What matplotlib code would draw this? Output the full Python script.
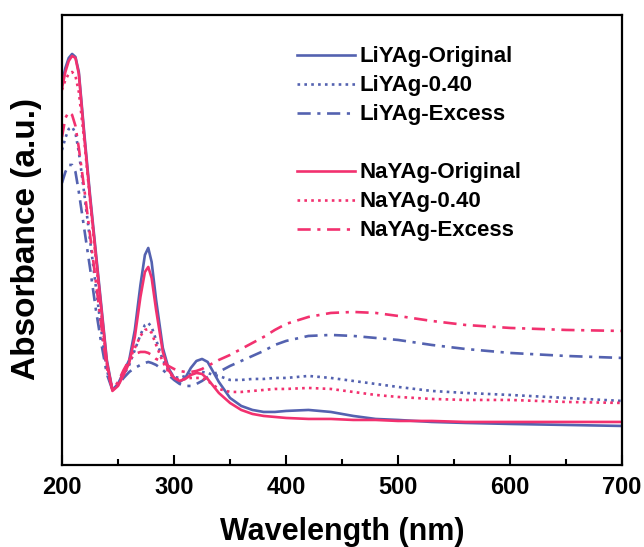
import matplotlib
matplotlib.use("Agg")
import matplotlib.pyplot as plt
from matplotlib.lines import Line2D
from matplotlib.ticker import MultipleLocator

plt.rcParams["font.family"] = ["Liberation Sans", "DejaVu Sans"]
plt.rcParams["font.weight"] = "bold"

# ── data (absorbance, arbitrary units) ────────────────────────────────────────
wavelength = [200, 203, 206, 209, 212, 215, 220, 225, 230, 235, 240, 245,
              250, 255, 260, 265, 270, 274, 277, 280, 284, 290, 295, 300,
              305, 310, 315, 320, 325, 330, 335, 340, 350, 360, 370, 380,
              390, 400, 420, 440, 460, 480, 500, 530, 560, 600, 650, 700]

li_original = [3.82, 3.97, 4.07, 4.11, 4.08, 3.93, 3.30, 2.70, 2.15, 1.60, 1.05, 0.75,
               0.81, 0.93, 1.05, 1.35, 1.80, 2.10, 2.17, 2.03, 1.65, 1.17, 0.97, 0.87,
               0.83, 0.87, 0.97, 1.04, 1.06, 1.03, 0.93, 0.83, 0.67, 0.59, 0.55, 0.53,
               0.53, 0.54, 0.55, 0.53, 0.49, 0.46, 0.45, 0.43, 0.42, 0.41, 0.40, 0.39]
li_040 = [3.15, 3.27, 3.36, 3.38, 3.32, 3.13, 2.70, 2.25, 1.80, 1.35, 0.95, 0.75,
          0.80, 0.90, 1.00, 1.15, 1.30, 1.40, 1.42, 1.38, 1.25, 1.05, 0.95, 0.88,
          0.87, 0.89, 0.91, 0.93, 0.93, 0.92, 0.90, 0.89, 0.85, 0.85, 0.86, 0.86,
          0.87, 0.87, 0.89, 0.87, 0.84, 0.81, 0.78, 0.74, 0.72, 0.70, 0.67, 0.64]
li_excess = [2.82, 2.93, 3.00, 3.00, 2.93, 2.73, 2.35, 1.97, 1.57, 1.22, 0.91, 0.75,
             0.80, 0.87, 0.93, 0.97, 1.00, 1.02, 1.03, 1.02, 1.00, 0.95, 0.90, 0.85,
             0.81, 0.79, 0.79, 0.81, 0.84, 0.88, 0.91, 0.93, 0.99, 1.04, 1.09, 1.14,
             1.20, 1.24, 1.29, 1.30, 1.29, 1.27, 1.25, 1.20, 1.16, 1.12, 1.09, 1.07]

na_original = [3.77, 3.93, 4.04, 4.09, 4.07, 3.91, 3.27, 2.67, 2.12, 1.57, 1.03, 0.74,
               0.79, 0.90, 1.02, 1.28, 1.68, 1.93, 1.98, 1.87, 1.55, 1.13, 0.95, 0.87,
               0.84, 0.86, 0.90, 0.92, 0.91, 0.86, 0.79, 0.72, 0.62, 0.55, 0.51, 0.49,
               0.48, 0.47, 0.46, 0.46, 0.45, 0.45, 0.44, 0.44, 0.43, 0.43, 0.43, 0.43]
na_040 = [3.75, 3.85, 3.91, 3.93, 3.89, 3.73, 3.23, 2.65, 2.08, 1.52, 1.01, 0.75,
          0.80, 0.93, 1.05, 1.17, 1.29, 1.35, 1.36, 1.32, 1.20, 1.03, 0.93, 0.87,
          0.85, 0.86, 0.87, 0.87, 0.87, 0.84, 0.80, 0.76, 0.73, 0.73, 0.74, 0.75,
          0.76, 0.76, 0.77, 0.76, 0.73, 0.70, 0.68, 0.66, 0.65, 0.65, 0.63, 0.62]
na_excess = [3.28, 3.47, 3.53, 3.50, 3.39, 3.17, 2.75, 2.30, 1.85, 1.40, 0.97, 0.75,
             0.83, 0.95, 1.05, 1.11, 1.13, 1.13, 1.12, 1.10, 1.06, 1.03, 0.99, 0.96,
             0.94, 0.93, 0.93, 0.94, 0.96, 0.99, 1.02, 1.05, 1.10, 1.16, 1.22, 1.28,
             1.35, 1.41, 1.48, 1.52, 1.53, 1.52, 1.49, 1.44, 1.40, 1.37, 1.35, 1.34]

BLUE = "#5462B0"
PINK = "#F2316F"
DOT = (0, (1, 1.6))
DASHDOT = (0, (5, 2.5, 1.2, 2.5))

fig = plt.figure(figsize=(6.44, 5.47), dpi=100)
ax = fig.add_axes([0.0963, 0.150, 0.8697, 0.8227])

series = [
    (li_original, BLUE, "-", "LiYAg-Original"),
    (li_040, BLUE, DOT, "LiYAg-0.40"),
    (li_excess, BLUE, DASHDOT, "LiYAg-Excess"),
    (na_original, PINK, "-", "NaYAg-Original"),
    (na_040, PINK, DOT, "NaYAg-0.40"),
    (na_excess, PINK, DASHDOT, "NaYAg-Excess"),
]
handles = []
for vals, color, ls, label in series:
    (ln,) = ax.plot(wavelength, vals, color=color, ls=ls, lw=1.9, label=label)
    handles.append(ln)

# blank row between the Li and Na groups
blank = Line2D([], [], color="none", label=" ")
handles = handles[:3] + [blank] + handles[3:]
ax.legend(handles=handles, loc="upper left", bbox_to_anchor=(0.42, 0.930),
          frameon=False, handlelength=2.6, handletextpad=0.18,
          labelspacing=0.36, borderaxespad=0, borderpad=0,
          prop={"weight": "bold", "size": 16})

ax.set_xlim(200, 700)
ax.set_ylim(0, 4.5)
ax.xaxis.set_major_locator(MultipleLocator(100))
ax.xaxis.set_minor_locator(MultipleLocator(50))
ax.tick_params(axis="x", which="major", direction="in", length=7, width=1.5,
               labelsize=17, pad=8, top=False)
ax.tick_params(axis="x", which="minor", direction="in", length=4, width=1.5, top=False)
ax.set_yticks([])
for lbl in ax.get_xticklabels():
    lbl.set_fontweight("bold")
for sp in ax.spines.values():
    sp.set_linewidth(1.6)

ax.set_xlabel("Wavelength (nm)", fontsize=22, fontweight="bold", labelpad=13)
ax.set_ylabel("Absorbance (a.u.)", fontsize=24, fontweight="bold")
ax.yaxis.set_label_coords(-0.036, 0.503)

fig.savefig("out.png", dpi=100)
